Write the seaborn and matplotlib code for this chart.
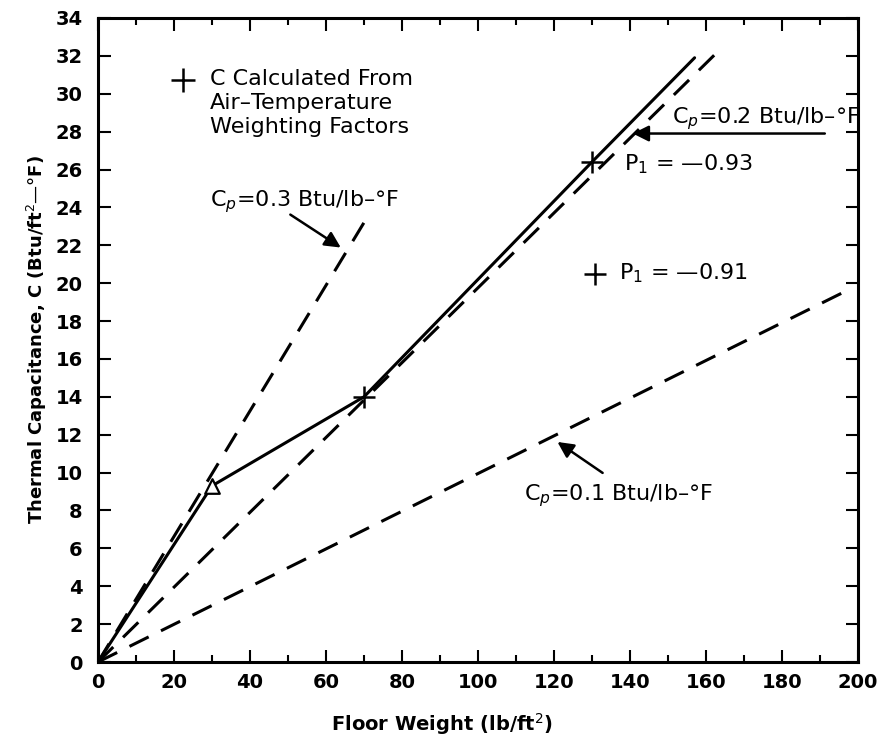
import matplotlib
matplotlib.use("Agg")
import matplotlib.pyplot as plt
import seaborn as sns
import pandas as pd
from matplotlib.ticker import MultipleLocator

# Calculated thermal capacitance (solid line)
floor_weight = [0, 30, 70, 130, 157]
capacitance = [0, 9.3, 14.0, 26.4, 31.9]

# Constant specific heat lines (dashed)
cp03_x = [0, 70]
cp03_y = [0, 23.2]
cp02_x = [0, 164]
cp02_y = [0, 32.4]
cp01_x = [0, 198]
cp01_y = [0, 19.7]

x_ticks = list(range(0, 201, 20))
y_ticks = list(range(0, 35, 2))

sns.set_style("ticks")
plt.rcParams['font.family'] = ['DejaVu Sans']
plt.rcParams.update({"text.color": "black", "axes.labelcolor": "black",
                     "xtick.color": "black", "ytick.color": "black",
                     "axes.edgecolor": "black"})

fig = plt.figure(figsize=(8.87, 7.4), dpi=100)
ax = fig.add_axes([0.1105, 0.1054, 0.8568, 0.8703])

calc = pd.DataFrame({"w": floor_weight, "c": capacitance})
sns.lineplot(data=calc, x="w", y="c", ax=ax, color="black", lw=2.2)

for xs, ys in [(cp03_x, cp03_y), (cp02_x, cp02_y), (cp01_x, cp01_y)]:
    d = pd.DataFrame({"w": xs, "c": ys})
    sns.lineplot(data=d, x="w", y="c", ax=ax, color="black", lw=2.2,
                 linestyle=(0, (7, 4.5)))

# markers on the calculated points
ax.scatter([floor_weight[1]], [capacitance[1]], marker="^", s=110, facecolors="white",
           edgecolors="black", linewidths=1.6, zorder=5)
ax.scatter(floor_weight[2:4], capacitance[2:4], marker="+", s=260, color="black",
           linewidths=1.8, zorder=5)

ax.set_xlim(0, 200)
ax.set_ylim(0, 34)
ax.set_xticks(x_ticks)
ax.set_yticks(y_ticks)
ax.xaxis.set_minor_locator(MultipleLocator(10))
ax.tick_params(which="both", direction="in", top=True, right=True, width=1.5)
ax.tick_params(which="major", length=9, labelsize=14)
ax.tick_params(axis="x", which="major", pad=8)
ax.tick_params(axis="y", which="major", pad=11)
ax.tick_params(which="minor", length=5)
for lab in ax.get_xticklabels() + ax.get_yticklabels():
    lab.set_fontweight("bold")
for s in ax.spines.values():
    s.set_linewidth(2.2)

ax.set_xlabel("Floor Weight (lb/ft$^2$)", fontsize=14, fontweight="bold", labelpad=14)
ax.xaxis.label.set_x(0.453)
ax.set_ylabel("Thermal Capacitance, C (Btu/ft$^2$\u2014\u00b0F)", fontsize=13,
              fontweight="bold", labelpad=5)

# legend-like text
ax.scatter([22.4], [30.7], marker="+", s=300, color="black", linewidths=1.8)
ax.text(29.5, 31.3, "C Calculated From\nAir\u2013Temperature\nWeighting Factors",
        fontsize=16, va="top", ha="left", linespacing=1.25)

ax.text(29.5, 24.3, "C$_p$=0.3 Btu/lb\u2013\u00b0F", fontsize=16, va="center", ha="left")
ax.annotate("", xy=(64.5, 21.8), xytext=(50, 23.7),
            arrowprops=dict(arrowstyle="-|>", color="black", lw=1.8, mutation_scale=24))

ax.text(151, 28.7, "C$_p$=0.2 Btu/lb\u2013\u00b0F", fontsize=16, va="center", ha="left")
ax.annotate("", xy=(140, 27.9), xytext=(192, 27.9),
            arrowprops=dict(arrowstyle="-|>", color="black", lw=1.8, mutation_scale=24))

ax.text(138.5, 26.3, "P$_1$ = \u20140.93", fontsize=16, va="center", ha="left")

ax.scatter([130.8], [20.5], marker="+", s=260, color="black", linewidths=1.8)
ax.text(137, 20.5, "P$_1$ = \u20140.91", fontsize=16, va="center", ha="left")

ax.text(112, 8.8, "C$_p$=0.1 Btu/lb\u2013\u00b0F", fontsize=16, va="center", ha="left")
ax.annotate("", xy=(120.3, 11.7), xytext=(133.4, 9.9),
            arrowprops=dict(arrowstyle="-|>", color="black", lw=1.8, mutation_scale=24))

fig.savefig("out.png", dpi=100)
